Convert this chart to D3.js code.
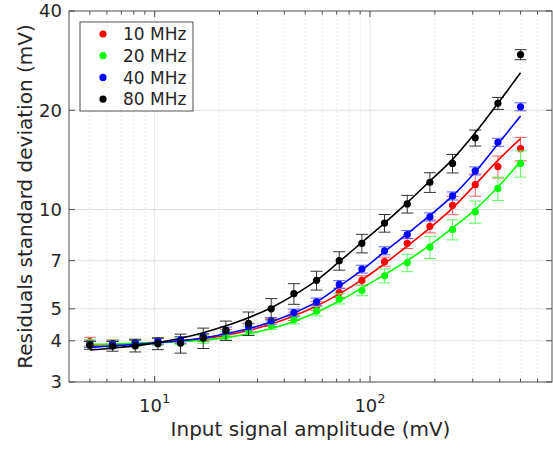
<!DOCTYPE html>
<html><head><meta charset="utf-8">
<script src="https://cdn.jsdelivr.net/npm/d3@7"></script>
<style>body{margin:0;background:#fff}svg{display:block}text{font-family:"DejaVu Sans",sans-serif;fill:#262626}</style>
</head><body><svg id="c" width="553" height="449"></svg>
<script>
const xVals = [5, 6.37, 8.12, 10.35, 13.18, 16.8, 21.41, 27.28, 34.76, 44.3, 56.45, 71.94, 91.67, 116.8, 148.9, 189.7, 241.7, 308, 392.5, 500];
const red10 = [3.98, 3.93, 3.95, 3.99, 4.02, 4.08, 4.22, 4.38, 4.55, 4.75, 5.1, 5.6, 6.1, 6.95, 7.9, 8.9, 10.3, 11.9, 13.5, 15.3];
const green20 = [3.93, 3.92, 3.95, 3.98, 4.0, 4.04, 4.15, 4.3, 4.46, 4.64, 4.92, 5.36, 5.68, 6.3, 6.9, 7.7, 8.7, 9.85, 11.6, 13.8];
const blue40 = [3.9, 3.92, 3.95, 3.99, 4.03, 4.12, 4.3, 4.42, 4.6, 4.87, 5.25, 5.93, 6.6, 7.5, 8.4, 9.5, 11.0, 13.1, 16.0, 20.5];
const black80 = [3.88, 3.85, 3.86, 3.92, 3.93, 4.08, 4.3, 4.52, 5.0, 5.56, 6.1, 7.0, 7.9, 9.1, 10.4, 12.1, 13.8, 16.5, 21.0, 29.5];
const redErr = [0.12, 0.1, 0.1, 0.1, 0.1, 0.1, 0.11, 0.12, 0.13, 0.14, 0.16, 0.18, 0.2, 0.22, 0.28, 0.4, 0.65, 0.92, 1.04, 1.25];
const greenErr = [0.1, 0.1, 0.1, 0.1, 0.1, 0.11, 0.12, 0.13, 0.13, 0.14, 0.16, 0.19, 0.2, 0.31, 0.42, 0.59, 0.61, 0.76, 0.95, 1.26];
const blueErr = [0.08, 0.08, 0.08, 0.08, 0.09, 0.09, 0.1, 0.1, 0.11, 0.12, 0.14, 0.16, 0.18, 0.21, 0.24, 0.27, 0.31, 0.37, 0.45, 0.57];
const blackErr = [0.11, 0.13, 0.16, 0.16, 0.26, 0.29, 0.29, 0.37, 0.37, 0.4, 0.4, 0.45, 0.51, 0.56, 0.64, 0.83, 0.89, 0.92, 0.88, 1.03];
const redFit = [3.88, 3.9, 3.93, 3.96, 4.0, 4.06, 4.16, 4.3, 4.5, 4.76, 5.1, 5.55, 6.12, 6.85, 7.75, 8.8, 10.1, 11.9, 14.1, 16.4];
const greenFit = [3.9, 3.91, 3.93, 3.95, 3.98, 4.02, 4.09, 4.2, 4.36, 4.58, 4.88, 5.28, 5.78, 6.35, 7.0, 7.8, 8.8, 10.0, 11.7, 14.0];
const blueFit = [3.82, 3.86, 3.9, 3.95, 4.0, 4.08, 4.2, 4.35, 4.57, 4.86, 5.25, 5.85, 6.55, 7.45, 8.45, 9.6, 11.0, 13.0, 15.8, 19.2];
const blackFit = [3.75, 3.8, 3.86, 3.95, 4.07, 4.23, 4.44, 4.7, 5.04, 5.5, 6.1, 6.95, 7.95, 9.1, 10.5, 12.2, 14.2, 17.1, 21.0, 26.0];
const seriesNames = ["10 MHz", "20 MHz", "40 MHz", "80 MHz"];
const seriesColors = ["#ff0000", "#00ff00", "#0000ff", "#000000"];
const errColors = ["#ff6060", "#60ff60", "#6060ff", "#303030"];
const yTickVals = [3, 4, 5, 7, 10, 20, 40];
const xMajorTicks = [10, 100];
const xMinorTicks = [5, 6, 7, 8, 9, 20, 30, 40, 50, 60, 70, 80, 90, 200, 300, 400, 500, 600];
const xLabel = "Input signal amplitude (mV)";
const yLabel = "Residuals standard deviation (mV)";

const L = 69, R = 552, T = 11, B = 382;
const x = d3.scaleLog().domain([4, 700]).range([L, R]);
const y = d3.scaleLog().domain([3, 40]).range([B, T]);
const svg = d3.select("#c");

// grid
const g = svg.append("g");
g.selectAll(".gmin").data(xMinorTicks).join("line")
  .attr("x1", d => x(d)).attr("x2", d => x(d)).attr("y1", T).attr("y2", B)
  .attr("stroke", "#dddddd").attr("stroke-width", 0.8).attr("stroke-dasharray", "1.5,2.5");
g.selectAll(".gmaj").data(xMajorTicks).join("line")
  .attr("x1", d => x(d)).attr("x2", d => x(d)).attr("y1", T).attr("y2", B)
  .attr("stroke", "#dcdcdc").attr("stroke-width", 0.8);
g.selectAll(".gy").data(yTickVals.slice(1, -1)).join("line")
  .attr("x1", L).attr("x2", R).attr("y1", d => y(d)).attr("y2", d => y(d))
  .attr("stroke", "#e2e2e2").attr("stroke-width", 1);

// series
const sets = [
  {v: red10, e: redErr, f: redFit},
  {v: green20, e: greenErr, f: greenFit},
  {v: blue40, e: blueErr, f: blueFit},
  {v: black80, e: blackErr, f: blackFit}
];
const line = d3.line().x(d => x(d[0])).y(d => y(d[1])).curve(d3.curveCatmullRom);
sets.forEach((s, k) => {
  const pts = xVals.map((xv, i) => ({x: xv, v: s.v[i], e: s.e[i]}));
  const eg = svg.append("g").attr("stroke", errColors[k]).attr("stroke-width", 1);
  pts.forEach(p => {
    const cx = x(p.x), y1 = y(p.v - p.e), y2 = y(p.v + p.e);
    eg.append("line").attr("x1", cx).attr("x2", cx).attr("y1", y1).attr("y2", y2);
    eg.append("line").attr("x1", cx - 6).attr("x2", cx + 6).attr("y1", y1).attr("y2", y1);
    eg.append("line").attr("x1", cx - 6).attr("x2", cx + 6).attr("y1", y2).attr("y2", y2);
  });
  svg.append("path").datum(xVals.map((xv, i) => [xv, s.f[i]]))
    .attr("d", line).attr("fill", "none").attr("stroke", seriesColors[k]).attr("stroke-width", 1.6);
  svg.append("g").selectAll("circle").data(pts).join("circle")
    .attr("cx", d => x(d.x)).attr("cy", d => y(d.v)).attr("r", 3.6).attr("fill", seriesColors[k]);
});

// frame and ticks
const ax = svg.append("g").attr("stroke", "#4d4d4d").attr("stroke-width", 1);
ax.append("rect").attr("x", L).attr("y", T).attr("width", R - L).attr("height", B - T).attr("fill", "none");
xMajorTicks.forEach(d => {
  ax.append("line").attr("x1", x(d)).attr("x2", x(d)).attr("y1", B).attr("y2", B - 6);
  ax.append("line").attr("x1", x(d)).attr("x2", x(d)).attr("y1", T).attr("y2", T + 6);
});
xMinorTicks.forEach(d => {
  ax.append("line").attr("x1", x(d)).attr("x2", x(d)).attr("y1", B).attr("y2", B - 3.5);
  ax.append("line").attr("x1", x(d)).attr("x2", x(d)).attr("y1", T).attr("y2", T + 3.5);
});
yTickVals.forEach(d => {
  ax.append("line").attr("x1", L).attr("x2", L + 6).attr("y1", y(d)).attr("y2", y(d));
  ax.append("line").attr("x1", R).attr("x2", R - 6).attr("y1", y(d)).attr("y2", y(d));
});

// tick labels
svg.append("g").selectAll("text").data(yTickVals).join("text")
  .attr("x", 62).attr("y", d => y(d)).attr("dy", "0.36em").attr("text-anchor", "end")
  .attr("font-size", 18).text(d => d);
xMajorTicks.forEach(d => {
  const t = svg.append("text").attr("x", x(d)).attr("y", 412).attr("text-anchor", "middle").attr("font-size", 18);
  t.append("tspan").text("10");
  t.append("tspan").attr("font-size", 13).attr("dy", -9).text(Math.round(Math.log10(d)));
});
svg.append("text").attr("x", (L + R) / 2).attr("y", 436).attr("text-anchor", "middle").attr("font-size", 20).text(xLabel);
svg.append("text").attr("transform", "translate(32," + ((T + B) / 2) + ") rotate(-90)")
  .attr("text-anchor", "middle").attr("font-size", 20).text(yLabel);

// legend
const lg = svg.append("g");
lg.append("rect").attr("x", 80).attr("y", 22).attr("width", 113).attr("height", 89)
  .attr("fill", "#fff").attr("stroke", "#262626").attr("stroke-width", 0.8);
seriesNames.forEach((n, i) => {
  const yy = 34 + i * 21.7;
  lg.append("circle").attr("cx", 103).attr("cy", yy).attr("r", 3.6).attr("fill", seriesColors[i]);
  lg.append("text").attr("x", 123).attr("y", yy).attr("dy", "0.36em").attr("font-size", 17).text(n);
});
</script></body></html>
